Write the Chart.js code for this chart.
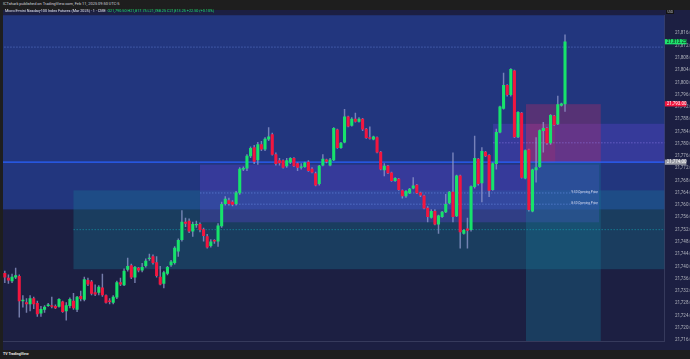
<!DOCTYPE html>
<html>
<head>
<meta charset="utf-8">
<script src="https://cdn.jsdelivr.net/npm/chart.js@4.4.1/dist/chart.umd.min.js"></script>
<style>
  html, body { margin: 0; padding: 0; width: 690px; height: 359px; overflow: hidden; background: #1e1e1e; font-family: Roboto, "Noto Sans", sans-serif; }
  #wrap { position: absolute; left: 3px; top: 10px; width: 687px; height: 340px; }
  .txt { position: absolute; white-space: nowrap; line-height: 1; }
  #pub { left: 3px; top: 2.4px; font-size: 3.95px; color: #d1d4dc; }
  #legend { left: 5px; top: 10.0px; font-size: 3.75px; color: #e0e3eb; }
  #legend span { color: #1ee36e; }
  #usd { left: 666px; top: 10.4px; font-size: 2.8px; color: #d1d4dc; background: #131313; padding: 0.4px 1.5px; }
  #foot { left: 3px; top: 353.4px; font-size: 3.6px; color: #e8e8e8; font-weight: 700; }
</style>
</head>
<body>
<div id="wrap"><canvas id="chart"></canvas></div>
<div class="txt" id="pub">ICTshark published on TradingView.com, Feb 11, 2025 09:50 UTC-5</div>
<div class="txt" id="legend">Micro E-mini Nasdaq-100 Index Futures (Mar 2025) · 1 · CME&nbsp; <span>O21,790.50 H21,817.75 L21,788.25 C21,813.25 +22.50 (+0.10%)</span></div>
<div class="txt" id="usd">USD</div>
<div class="txt" id="foot">TV TradingView</div>
<script>
// 1 minute candles from 07:26
const opens = [
  21737.75, 21736.25, 21735.25, 21736.5, 21736.75, 21728.75, 21728.25, 21727.75, 21729.5, 21728.0,
  21724.75, 21726.0, 21727.25, 21727.25, 21727.0, 21727.0, 21728.5, 21725.5, 21727.25, 21728.75,
  21726.0, 21730.25, 21729.25, 21735.5, 21735.0, 21731.5, 21731.5, 21733.0, 21730.5, 21728.75,
  21728.25, 21730.0, 21734.75, 21734.0, 21739.0, 21740.25, 21736.5, 21739.5, 21738.75, 21740.25,
  21742.5, 21743.25, 21741.25, 21736.5, 21734.5, 21737.75, 21740.5, 21741.25, 21745.0, 21748.75,
  21754.5, 21754.75, 21751.5, 21753.5, 21753.75, 21752.0, 21749.75, 21746.75, 21748.5, 21748.25,
  21753.25, 21760.5, 21761.5, 21761.0, 21760.5, 21764.0, 21771.75, 21772.0, 21776.0, 21778.75,
  21774.75, 21779.75, 21778.25, 21781.5, 21783.0, 21776.5, 21774.5, 21774.5, 21772.75, 21774.0,
  21775.25, 21773.5, 21772.25, 21772.5, 21774.0, 21771.75, 21770.25, 21767.0, 21773.0, 21774.75,
  21773.0, 21774.75, 21784.5, 21778.75, 21780.5, 21788.75, 21786.0, 21788.0, 21787.25, 21788.0,
  21784.75, 21782.0, 21781.5, 21782.0, 21777.25, 21771.5, 21772.75, 21770.5, 21768.0, 21768.5,
  21764.75, 21763.0, 21764.0, 21765.5, 21766.5, 21764.0, 21763.0, 21759.0, 21756.0, 21758.0,
  21753.75, 21756.25, 21757.75, 21760.75, 21764.25, 21756.5, 21769.5, 21750.75, 21752.25, 21752.0,
  21766.0, 21775.0, 21767.25, 21777.25, 21776.25, 21765.0, 21773.5, 21783.75, 21791.5, 21799.0,
  21796.0, 21803.75, 21782.25, 21790.0, 21768.75, 21778.0, 21758.0, 21771.5, 21772.5, 21784.25,
  21785.0, 21780.25, 21789.0, 21786.5, 21792.5, 21793.0
];
const highs = [
  21738.5, 21737.25, 21737.5, 21739.5, 21737.25, 21730.5, 21729.5, 21730.5, 21730.0, 21728.75,
  21727.0, 21727.25, 21728.0, 21730.0, 21727.5, 21729.5, 21728.75, 21728.25, 21729.75, 21731.25,
  21730.25, 21732.0, 21736.5, 21736.25, 21735.5, 21734.0, 21733.75, 21737.5, 21730.75, 21729.5,
  21730.5, 21735.25, 21736.25, 21739.25, 21742.75, 21740.75, 21740.0, 21739.75, 21741.0, 21742.5,
  21744.0, 21743.75, 21743.25, 21740.0, 21738.5, 21740.0, 21742.0, 21746.5, 21749.0, 21758.25,
  21755.75, 21755.5, 21754.5, 21754.75, 21754.25, 21752.5, 21750.5, 21748.75, 21748.75, 21754.0,
  21761.0, 21762.75, 21762.25, 21761.5, 21764.5, 21772.25, 21772.5, 21776.5, 21779.0, 21779.5,
  21780.5, 21780.75, 21782.0, 21785.25, 21783.5, 21777.0, 21775.25, 21774.75, 21775.25, 21775.5,
  21775.5, 21773.75, 21773.5, 21774.0, 21774.5, 21772.25, 21770.75, 21773.0, 21776.5, 21775.0,
  21775.25, 21785.25, 21784.75, 21780.5, 21791.25, 21789.0, 21788.5, 21790.0, 21788.5, 21788.25,
  21785.0, 21785.5, 21782.5, 21782.25, 21777.5, 21773.5, 21773.0, 21770.75, 21769.0, 21768.75,
  21765.0, 21764.75, 21765.5, 21769.0, 21766.75, 21764.25, 21763.25, 21759.5, 21758.5, 21758.5,
  21756.75, 21758.0, 21763.5, 21764.5, 21777.0, 21769.75, 21769.75, 21752.0, 21755.75, 21766.25,
  21782.5, 21775.25, 21778.75, 21777.5, 21776.5, 21773.75, 21784.75, 21792.25, 21803.0, 21799.25,
  21804.5, 21804.0, 21790.5, 21790.25, 21778.0, 21778.25, 21771.75, 21782.0, 21784.5, 21787.0,
  21785.25, 21789.5, 21789.25, 21795.5, 21793.25, 21815.5
];
const lows = [
  21734.75, 21734.5, 21734.75, 21736.0, 21723.5, 21726.75, 21725.0, 21725.5, 21726.25, 21723.75,
  21723.75, 21725.0, 21727.0, 21726.5, 21726.25, 21726.75, 21725.0, 21722.5, 21726.5, 21726.0,
  21725.25, 21728.75, 21728.75, 21733.75, 21730.75, 21730.5, 21730.75, 21730.25, 21728.0, 21727.75,
  21727.75, 21729.5, 21733.75, 21733.75, 21738.5, 21736.0, 21734.75, 21738.25, 21738.25, 21739.75,
  21742.0, 21740.75, 21736.5, 21734.0, 21733.0, 21737.25, 21740.0, 21740.75, 21743.25, 21748.25,
  21753.0, 21751.0, 21749.75, 21752.75, 21751.25, 21748.25, 21746.0, 21746.25, 21747.5, 21746.5,
  21752.75, 21760.0, 21760.0, 21759.75, 21760.0, 21763.5, 21771.25, 21771.25, 21775.5, 21773.5,
  21773.25, 21777.75, 21777.75, 21781.0, 21776.25, 21773.0, 21773.0, 21772.0, 21772.25, 21773.5,
  21772.5, 21771.25, 21771.75, 21772.25, 21771.0, 21770.5, 21766.25, 21766.5, 21772.75, 21773.75,
  21772.75, 21774.5, 21778.5, 21778.5, 21780.25, 21785.5, 21785.75, 21787.0, 21787.0, 21784.25,
  21781.75, 21781.5, 21781.25, 21777.0, 21771.5, 21769.5, 21770.25, 21767.75, 21767.75, 21764.75,
  21762.25, 21762.5, 21763.75, 21765.25, 21763.75, 21762.75, 21758.75, 21754.5, 21755.75, 21753.5,
  21750.75, 21756.0, 21757.5, 21760.5, 21754.5, 21756.25, 21746.0, 21750.5, 21746.0, 21751.5,
  21765.5, 21766.5, 21761.0, 21775.75, 21762.75, 21764.75, 21771.75, 21783.5, 21791.25, 21795.5,
  21795.5, 21782.0, 21782.0, 21768.75, 21768.5, 21758.0, 21757.75, 21767.5, 21772.25, 21777.25,
  21779.75, 21779.75, 21786.0, 21786.25, 21792.25, 21790.5
];
const closes = [
  21736.5, 21735.5, 21736.5, 21737.0, 21728.75, 21729.0, 21727.75, 21729.5, 21727.75, 21724.5,
  21726.0, 21726.75, 21727.5, 21727.0, 21726.5, 21729.25, 21725.25, 21727.25, 21729.25, 21726.5,
  21730.0, 21729.5, 21735.75, 21734.25, 21731.25, 21731.0, 21733.25, 21730.75, 21728.25, 21728.5,
  21730.0, 21734.75, 21734.25, 21738.5, 21740.0, 21736.5, 21739.75, 21738.75, 21739.75, 21741.75,
  21742.75, 21741.25, 21737.0, 21734.25, 21738.0, 21739.75, 21741.5, 21746.0, 21748.5, 21754.5,
  21754.0, 21751.5, 21753.75, 21753.75, 21752.0, 21750.0, 21746.25, 21748.0, 21748.25, 21753.25,
  21760.25, 21762.0, 21760.5, 21760.25, 21764.0, 21771.75, 21772.0, 21776.0, 21778.5, 21774.25,
  21779.75, 21778.25, 21781.5, 21782.25, 21776.5, 21773.5, 21773.75, 21772.25, 21774.5, 21775.25,
  21772.75, 21772.25, 21772.5, 21773.75, 21771.25, 21770.75, 21766.5, 21772.75, 21775.0, 21774.25,
  21774.75, 21785.0, 21778.75, 21780.25, 21788.75, 21785.75, 21788.0, 21787.25, 21788.0, 21784.75,
  21782.0, 21781.75, 21782.25, 21777.25, 21771.75, 21772.75, 21770.5, 21768.0, 21768.75, 21765.0,
  21763.0, 21764.5, 21765.25, 21766.25, 21764.0, 21763.25, 21759.0, 21756.25, 21758.0, 21753.75,
  21756.5, 21757.75, 21760.25, 21764.25, 21756.25, 21769.5, 21751.25, 21751.75, 21751.75, 21766.0,
  21775.25, 21767.0, 21777.5, 21776.0, 21764.75, 21773.5, 21783.75, 21792.0, 21799.0, 21796.0,
  21804.25, 21782.25, 21790.25, 21769.0, 21777.75, 21758.5, 21771.5, 21772.25, 21784.25, 21785.0,
  21780.25, 21789.25, 21786.25, 21792.75, 21793.0, 21813.25
];

const startHour = 7, startMinute = 26, slotCount = 183; // axis runs 07:26 .. 10:28
const timeTicks = ['07:30', '07:40', '07:50', '08:00', '08:10', '08:20', '08:30', '08:40', '08:50', '09:00',
  '09:10', '09:20', '09:30', '09:40', '09:50', '10:00', '10:10', '10:20'];
const priceTicks = [21716, 21720, 21724, 21728, 21732, 21736, 21740, 21744, 21748, 21752, 21756, 21760, 21764,
  21768, 21772, 21776, 21780, 21784, 21788, 21792, 21796, 21800, 21804, 21808, 21812, 21816];

// session / range boxes: candle index span and price span
const zones = [
  { from: -1, to: 183, top: 21830, bottom: 21758.6, color: 'rgba(40,77,186,0.5)' },
  { from: 19, to: 183, top: 21764.8, bottom: 21739.1, color: 'rgba(22,118,150,0.35)' },
  { from: 54, to: 164.4, top: 21773.2, bottom: 21754.4, color: 'rgba(91,65,206,0.35)' },
  { from: 135.1, to: 183, top: 21786.5, bottom: 21773.9, color: 'rgba(91,65,206,0.35)' },
  { from: 144.2, to: 164.9, top: 21792.9, bottom: 21773.9, color: 'rgba(208,43,95,0.3)' },
  { from: 144.2, to: 152.3, top: 21786.5, bottom: 21773.9, color: 'rgba(208,43,95,0.18)' },
  { from: 144.2, to: 164.9, top: 21773.9, bottom: 21700, color: 'rgba(22,118,150,0.35)' }
];
const levels = [
  { price: 21811.5, from: -1, to: 183, color: 'rgba(110,140,230,0.7)', width: 0.7, dash: [1.5, 1.5] },
  { price: 21780.3, from: 135.1, to: 183, color: 'rgba(150,130,240,0.7)', width: 0.7, dash: [1.5, 1.5] },
  { price: 21763.95, from: 54, to: 164.4, color: 'rgba(110,150,235,0.75)', width: 0.7, dash: [1.5, 1.5] },
  { price: 21760.3, from: 64, to: 164.4, color: 'rgba(110,150,235,0.75)', width: 0.7, dash: [1.5, 1.5] },
  { price: 21752.0, from: 19, to: 183, color: 'rgba(20,170,185,0.75)', width: 0.7, dash: [1.5, 1.5] },
  { price: 21774.0, from: -1, to: 183, color: '#2962ff', width: 1.4, dash: [] }
];
const notes = [
  { text: '9:30 Opening Price', price: 21763.95, at: 164.4 },
  { text: '8:30 Opening Price', price: 21760.3, at: 164.4 }
];
const priceTags = [
  { price: 21813.25, text: '21,813.25', bg: '#1ee36e', fg: '#0b1a10' },
  { price: 21793.0, text: '21,793.00', bg: '#f2163f', fg: '#ffffff' },
  { price: 21774.0, text: '21,774.00', bg: '#9a9ca6', fg: '#ffffff' }
];

const GREEN = '#17e36b', RED = '#f2163f', WICK = 'rgba(145,155,205,0.75)';
const NAVY = '#1c1f42', TEXT = '#b2b5be';

const labels = [];
for (let i = 0; i < slotCount; i++) {
  const m = startHour * 60 + startMinute + i;
  labels.push(String(Math.floor(m / 60)).padStart(2, '0') + ':' + String(m % 60).padStart(2, '0'));
}
const bodies = opens.map((o, i) => [o, closes[i]]);
const wicks = lows.map((l, i) => [l, highs[i]]);
const bodyColors = opens.map((o, i) => closes[i] >= o ? GREEN : RED);

const fmt = v => v.toLocaleString('en-US', { minimumFractionDigits: 2, maximumFractionDigits: 2 });

const tvPlugin = {
  id: 'tvDecor',
  beforeDraw(chart) {
    const { ctx, width, height } = chart;
    ctx.save();
    ctx.fillStyle = NAVY;
    ctx.fillRect(0, 0, width, height);
    ctx.restore();
  },
  beforeDatasetsDraw(chart) {
    const { ctx, chartArea: a, scales: { x, y } } = chart;
    ctx.save();
    ctx.beginPath();
    ctx.rect(a.left, a.top, a.right - a.left, a.bottom - a.top);
    ctx.clip();
    zones.forEach(z => {
      const x0 = x.getPixelForValue(z.from), x1 = x.getPixelForValue(z.to);
      const y0 = y.getPixelForValue(z.top), y1 = y.getPixelForValue(z.bottom);
      ctx.fillStyle = z.color;
      ctx.fillRect(x0, y0, x1 - x0, y1 - y0);
    });
    levels.forEach(l => {
      const py = y.getPixelForValue(l.price);
      ctx.beginPath();
      ctx.setLineDash(l.dash);
      ctx.strokeStyle = l.color;
      ctx.lineWidth = l.width;
      ctx.moveTo(x.getPixelForValue(l.from), py);
      ctx.lineTo(x.getPixelForValue(l.to), py);
      ctx.stroke();
    });
    ctx.restore();
  },
  afterDatasetsDraw(chart) {
    const { ctx, scales: { x, y } } = chart;
    ctx.save();
    ctx.font = '3.2px Roboto, sans-serif';
    ctx.fillStyle = '#d6d9f0';
    ctx.textAlign = 'right';
    ctx.textBaseline = 'bottom';
    notes.forEach(n => ctx.fillText(n.text, x.getPixelForValue(n.at) - 1, y.getPixelForValue(n.price) + 0.4));
    ctx.restore();
  },
  afterDraw(chart) {
    const { ctx, chartArea: a, scales: { y } } = chart;
    ctx.save();
    ctx.font = '4.5px Roboto, sans-serif';
    ctx.textBaseline = 'middle';
    ctx.textAlign = 'left';
    priceTags.forEach(t => {
      const py = y.getPixelForValue(t.price);
      ctx.fillStyle = t.bg;
      ctx.fillRect(a.right + 0.5, py - 2.6, 21.5, 5.2);
      ctx.fillStyle = t.fg;
      ctx.fillText(t.text, a.right + 2.3, py + 0.2);
    });
    ctx.restore();
  }
};

new Chart(document.getElementById('chart'), {
  type: 'bar',
  data: {
    labels: labels,
    datasets: [
      {
        data: bodies,
        backgroundColor: bodyColors,
        barThickness: 2.4,
        minBarLength: 0.8,
        grouped: false,
        order: 0
      },
      {
        data: wicks,
        backgroundColor: WICK,
        barThickness: 0.8,
        grouped: false,
        order: 1
      }
    ]
  },
  options: {
    responsive: true,
    maintainAspectRatio: false,
    animation: false,
    events: [],
    layout: { padding: { top: 1, left: 0, right: 0, bottom: 0 } },
    plugins: { legend: { display: false }, tooltip: { enabled: false } },
    scales: {
      x: {
        grid: { display: false },
        border: { display: true, color: '#363a5c', width: 1 },
        afterFit: s => { s.height = 9; },
        ticks: {
          autoSkip: false,
          maxRotation: 0,
          minRotation: 0,
          padding: 1.5,
          color: TEXT,
          font: { size: 4.5, family: 'Roboto' },
          callback: function (v, i) { return timeTicks.includes(labels[i]) ? labels[i] : ''; }
        }
      },
      y: {
        position: 'right',
        min: 21715.7,
        max: 21821.9,
        grid: { display: false },
        border: { display: true, color: '#363a5c', width: 1 },
        afterFit: s => { s.width = 25.6; },
        afterBuildTicks: s => { s.ticks = priceTicks.map(v => ({ value: v })); },
        ticks: {
          autoSkip: false,
          padding: 2.5,
          color: TEXT,
          font: { size: 4.5, family: 'Roboto' },
          callback: v => fmt(v)
        }
      }
    }
  },
  plugins: [tvPlugin]
});
</script>
</body>
</html>
